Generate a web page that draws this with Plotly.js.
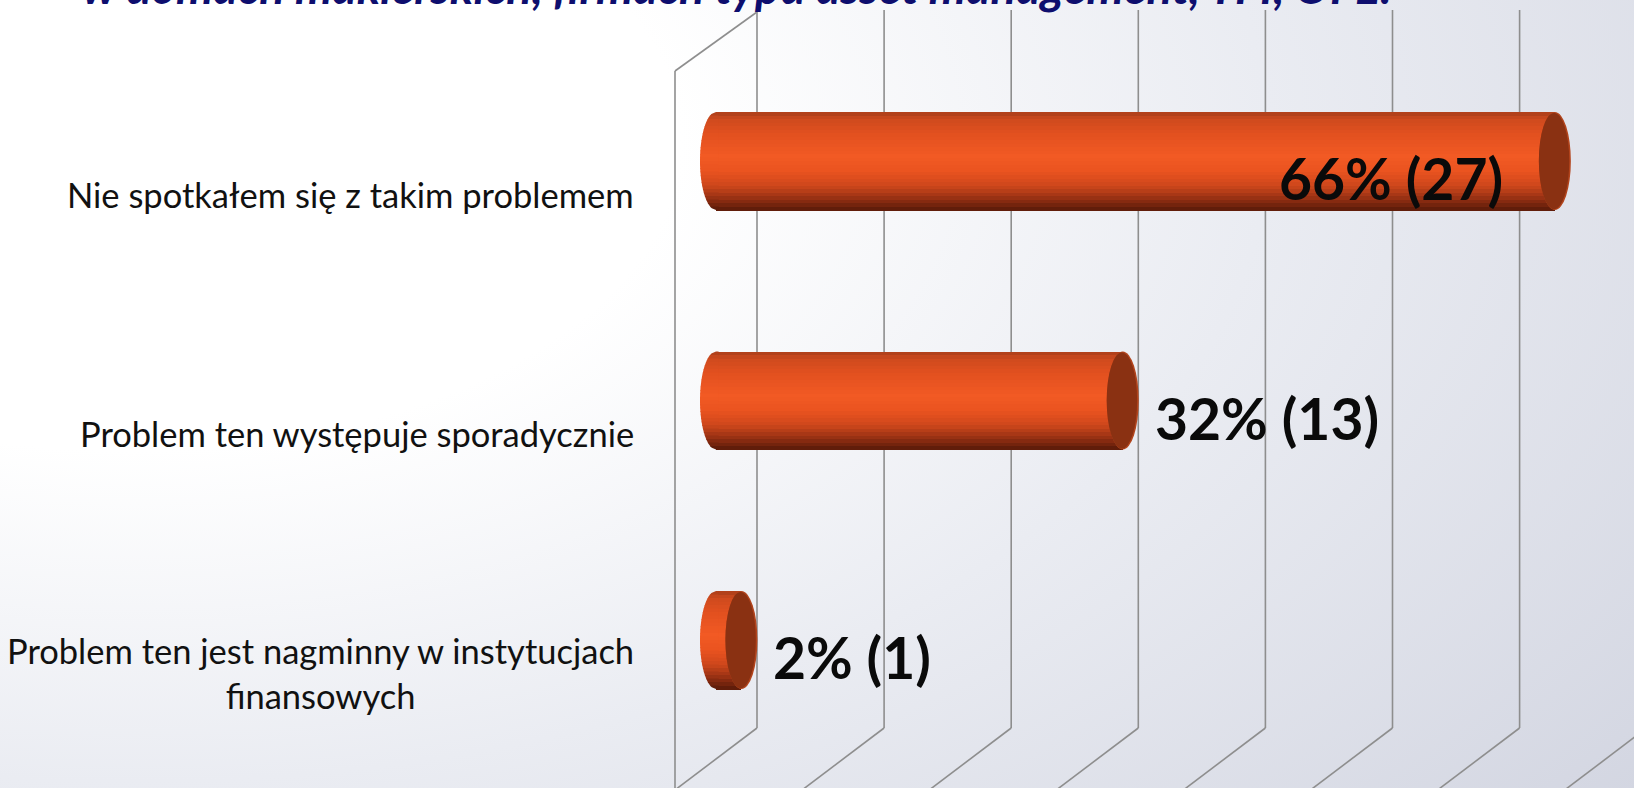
<!DOCTYPE html>
<html>
<head>
<meta charset="utf-8">
<script src="https://cdn.plot.ly/plotly-3.0.1.min.js"></script>
<style>
  html, body { margin: 0; padding: 0; overflow: hidden; }
  body {
    width: 1634px; height: 788px;
    background: radial-gradient(ellipse 120% 140% at 8% 18%, #ffffff 0%, #ffffff 28%, #eaecf2 58%, #d1d4e0 100%);
  }
  #chart { width: 1634px; height: 788px; }
</style>
</head>
<body>
<div id="chart"></div>
<script>
// ---- data ----
const categories = [
  "Nie spotkałem się z takim problemem",
  "Problem ten występuje sporadycznie",
  "Problem ten jest nagminny w instytucjach<br>finansowych"
];
const percentValues = [66, 32, 2];
const respondentCounts = [27, 13, 1];
const gridTicks = [0, 10, 20, 30, 40, 50, 60, 70];
const titleText = "w domach maklerskich, firmach typu asset management, TFI, OFE.";

// ---- geometry / style ----
const W = 1634, H = 788;
const zeroPx = 716, pxPerUnit = 12.71;
const firstCatPx = 161, catStepPx = 239.5;
const xRange = [-zeroPx / pxPerUnit, (W - zeroPx) / pxPerUnit];
const yRange = [(H - firstCatPx) / catStepPx, -firstCatPx / catStepPx]; // reversed
const barH = 98 / catStepPx;           // bar thickness in category units
const capA = 16 / pxPerUnit;           // ellipse half-width in data units
const depth = 41 / pxPerUnit;          // half depth offset in data units
const yIdx = categories.map((c, i) => i);

function py(px) { return 1 - px / H; }  // pixel-from-top -> paper

// cylinder shading stops (top -> bottom)
const stops = [
  [0.00, [168, 62, 26]],
  [0.07, [206, 74, 30]],
  [0.22, [226, 80, 31]],
  [0.45, [242, 90, 36]],
  [0.60, [234, 83, 32]],
  [0.75, [206, 71, 27]],
  [0.88, [150, 48, 19]],
  [1.00, [88, 26, 8]]
];
function shade(t) {
  for (let i = 1; i < stops.length; i++) {
    if (t <= stops[i][0]) {
      const [t0, c0] = stops[i - 1], [t1, c1] = stops[i];
      const f = (t - t0) / (t1 - t0);
      const c = c0.map((v, k) => Math.round(v + (c1[k] - v) * f));
      return `rgb(${c[0]},${c[1]},${c[2]})`;
    }
  }
  return 'rgb(88,26,8)';
}

const N = 28;
const traces = [];
const shapes = [];

// grid (3D wall lines) -- below the bars
const gridColor = '#8e8e8e';
gridTicks.forEach(t => {
  const back = t + depth, front = t - depth;
  shapes.push({type: 'line', layer: 'below', xref: 'x', yref: 'paper',
    x0: back, x1: back, y0: py(10), y1: py(728), line: {color: gridColor, width: 1.6}});
  shapes.push({type: 'line', layer: 'below', xref: 'x', yref: 'paper',
    x0: back, x1: front, y0: py(728), y1: py(H + 2), line: {color: gridColor, width: 1.6}});
});
// left wall
shapes.push({type: 'line', layer: 'below', xref: 'x', yref: 'paper',
  x0: -depth, x1: -depth, y0: py(71), y1: py(H + 2), line: {color: gridColor, width: 1.6}});
shapes.push({type: 'line', layer: 'below', xref: 'x', yref: 'paper',
  x0: -depth, x1: depth, y0: py(71), y1: py(12), line: {color: gridColor, width: 1.6}});

// stripes of the cylinder body
for (let k = 0; k < N; k++) {
  const t = (k + 0.5) / N;
  const col = shade(t);
  const off = -barH / 2 + k * barH / N;
  traces.push({
    type: 'bar', orientation: 'h',
    x: percentValues, y: yIdx,
    width: barH / N * 1.25, offset: off,
    marker: {color: col, line: {width: 0}},
    hoverinfo: 'skip', showlegend: false
  });
  // rounded left end of each cylinder, stripe by stripe
  const u0 = -barH / 2 + k * barH / N, u1 = u0 + barH / N * 1.2;
  const s = u => Math.sqrt(Math.max(0, 1 - Math.pow(2 * Math.min(u, barH / 2) / barH, 2)));
  yIdx.forEach(i => {
    const ue = Math.min(u1, barH / 2);
    const xa = -capA * s(u0), xb = -capA * s(ue);
    const um = (u0 + ue) / 2;
    const xm = -capA * s(um);
    shapes.push({type: 'path', layer: 'above', xref: 'x', yref: 'y',
      path: `M ${xa} ${i + u0} L 0.2 ${i + u0} L 0.2 ${i + ue} L ${xb} ${i + ue} L ${xm} ${i + um} Z`,
      fillcolor: col, line: {width: 0}});
  });
}

// right end caps
percentValues.forEach((v, i) => {
  shapes.push({type: 'circle', layer: 'above', xref: 'x', yref: 'y',
    x0: v - capA, x1: v + capA, y0: i - barH / 2, y1: i + barH / 2,
    fillcolor: '#b2441c', line: {width: 0}});
  shapes.push({type: 'circle', layer: 'above', xref: 'x', yref: 'y',
    x0: v - capA, x1: v + capA * 0.9, y0: i - barH / 2 + 0.004, y1: i + barH / 2 - 0.004,
    fillcolor: '#8a3112', line: {width: 0}});
});

// annotations
const annotations = [];
categories.forEach((c, i) => {
  annotations.push({
    xref: 'paper', yref: 'y', x: 636 / W, y: i, yshift: -33,
    xanchor: 'right', yanchor: 'middle', align: 'center', showarrow: false,
    text: c, font: {family: 'Lato, sans-serif', size: 34.5, color: '#111111'}
  });
});
percentValues.forEach((v, i) => {
  const label = `${v}% (${respondentCounts[i]})`;
  const inside = zeroPx + v * pxPerUnit + 260 > W;
  annotations.push({
    xref: 'x', yref: 'y', x: v, y: i, yshift: -17,
    xanchor: inside ? 'right' : 'left', xshift: inside ? -50 : 30,
    showarrow: false, text: label,
    font: {family: 'Lato, sans-serif', size: 57, color: '#0a0a0a', weight: 'bold'}
  });
});
annotations.push({
  xref: 'paper', yref: 'paper', x: 80 / W, y: 1, xanchor: 'left', yanchor: 'bottom',
  yshift: -16, showarrow: false, text: '<b><i>' + titleText + '</i></b>',
  font: {family: 'Lato, sans-serif', size: 47, color: '#0e0e6e'}
});

const layout = {
  width: W, height: H,
  margin: {l: 0, r: 0, t: 0, b: 0, pad: 0},
  paper_bgcolor: 'rgba(0,0,0,0)', plot_bgcolor: 'rgba(0,0,0,0)',
  barmode: 'overlay', bargap: 0,
  showlegend: false,
  xaxis: {range: xRange, visible: false, fixedrange: true},
  yaxis: {range: yRange, visible: false, fixedrange: true, type: 'linear'},
  shapes: shapes,
  annotations: annotations
};

Plotly.newPlot('chart', traces, layout, {staticPlot: true, displayModeBar: false});
</script>
</body>
</html>
